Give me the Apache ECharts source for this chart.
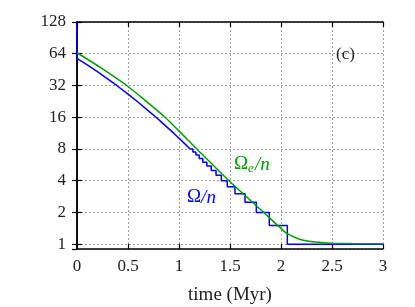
<!DOCTYPE html>
<html>
<head>
<meta charset="utf-8">
<script src="https://cdn.jsdelivr.net/npm/echarts@6/dist/echarts.min.js"></script>
<style>
html,body{margin:0;padding:0;background:#fff;}
#c{width:415px;height:307px;}
</style>
</head>
<body>
<div id="c"></div>
<script>
// ---- data ----
const xTicks = [0, 0.5, 1, 1.5, 2, 2.5, 3];
const yTicks = [1, 2, 4, 8, 16, 32, 64, 128];
// Omega/n, smooth part (time in Myr, ratio)
const blueSmoothT = [0, 0, 0.1, 0.2, 0.3, 0.389, 0.5, 0.6, 0.7, 0.775, 0.85, 0.95, 1.03, 1.109];
const blueSmoothV = [128, 57.8, 50.2, 43.2, 37.0, 32, 26.5, 22.2, 18.4, 16, 13.76, 11.23, 9.49, 8];
// Omega/n, staircase part: time when each plateau starts, plateau value
const blueStepT = [1.109, 1.136, 1.166, 1.198, 1.233, 1.273, 1.316, 1.363, 1.415, 1.473, 1.549, 1.647, 1.758, 1.885, 2.062, 3];
const blueStepV = [8, 7.5, 7, 6.5, 6, 5.5, 5, 4.5, 4, 3.5, 3, 2.5, 2, 1.5, 1, 1];
// Omega_e/n
const greenT = [0, 0.25, 0.487, 0.68, 0.863, 1.02, 1.175, 1.49, 1.67, 1.83, 1.99, 2.06, 2.22, 2.45, 2.7, 3];
const greenV = [65.4, 46, 32, 22.6, 16, 11.3, 8, 4, 2.77, 2, 1.44, 1.26, 1.09, 1.027, 1.012, 1.01];

const zip = (a, b) => a.map((v, i) => [v, b[i]]);
const FONT = 'Liberation Serif';
const BLUE = '#0000ff';
const GREEN = '#00a000';
const TXT = '#222';

const chart = echarts.init(document.getElementById('c'), null, {renderer: 'canvas'});

const splitDotted = {show: true, lineStyle: {color: '#a0a0a0', type: [2, 2], width: 1}};
const axisLineBlack = {show: true, lineStyle: {color: '#000', width: 1.5}};
const tickIn = {show: true, inside: true, length: 5, lineStyle: {color: '#000', width: 1.2}};

const yCommon = {
  type: 'log', logBase: 2, min: 0.9, max: 128,
  axisLine: axisLineBlack, axisTick: tickIn
};
const xCommon = {
  type: 'value', min: 0, max: 3, interval: 0.5,
  axisLine: axisLineBlack, axisTick: tickIn
};

chart.setOption({
  animation: false,
  backgroundColor: '#fff',
  grid: {left: 77, right: 32, top: 22, bottom: 58, show: false, containLabel: false, outerBoundsMode: 'none'},
  xAxis: [
    Object.assign({}, xCommon, {
      position: 'bottom',
      name: 'time (Myr)', nameLocation: 'middle', nameGap: 37,
      nameTextStyle: {fontFamily: FONT, fontSize: 19, color: TXT},
      axisLabel: {fontFamily: FONT, fontSize: 17, color: TXT, margin: 9,
        formatter: v => xTicks.includes(v) ? String(v) : ''},
      splitLine: splitDotted
    }),
    Object.assign({}, xCommon, {
      position: 'top', axisLabel: {show: false}, splitLine: {show: false}
    })
  ],
  yAxis: [
    Object.assign({}, yCommon, {
      position: 'left',
      axisLabel: {fontFamily: FONT, fontSize: 17, color: TXT, margin: 11, showMinLabel: false,
        formatter: v => { const r = Math.round(v); return yTicks.includes(r) && Math.abs(v - r) < 1e-6 ? String(r) : ''; }},
      splitLine: splitDotted
    }),
    Object.assign({}, yCommon, {
      position: 'right', axisLabel: {show: false}, splitLine: {show: false}
    })
  ],
  series: [
    {
      name: 'blueSmooth', type: 'line', data: zip(blueSmoothT, blueSmoothV),
      showSymbol: false, lineStyle: {color: BLUE, width: 1.5}, z: 2, clip: true
    },
    {
      name: 'blueStep', type: 'line', data: zip(blueStepT, blueStepV), step: 'end',
      showSymbol: false, lineStyle: {color: BLUE, width: 1.5}, z: 2, clip: true
    },
    {
      name: 'green', type: 'line', data: zip(greenT, greenV), smooth: 0.3,
      showSymbol: false, lineStyle: {color: GREEN, width: 1.5}, z: 3, clip: true
    }
  ],
  graphic: [
    {
      type: 'text', left: 234, top: 155, z: 10,
      style: {
        text: '{o|Ω}{s|e}{i|/n}',
        rich: {
          o: {fontFamily: FONT, fontSize: 19, fill: GREEN},
          s: {fontFamily: FONT, fontStyle: 'italic', fontSize: 13, fill: GREEN, padding: [8, 1, 0, 0]},
          i: {fontFamily: FONT, fontStyle: 'italic', fontSize: 19, fill: GREEN}
        }
      }
    },
    {
      type: 'text', left: 187, top: 188, z: 10,
      style: {
        text: '{o|Ω}{i|/n}',
        rich: {
          o: {fontFamily: FONT, fontSize: 19, fill: BLUE},
          i: {fontFamily: FONT, fontStyle: 'italic', fontSize: 19, fill: BLUE}
        }
      }
    },
    {
      type: 'text', left: 336, top: 46, z: 10,
      style: {text: '(c)', fontFamily: FONT, fontSize: 17, fill: TXT}
    }
  ]
});
</script>
</body>
</html>
